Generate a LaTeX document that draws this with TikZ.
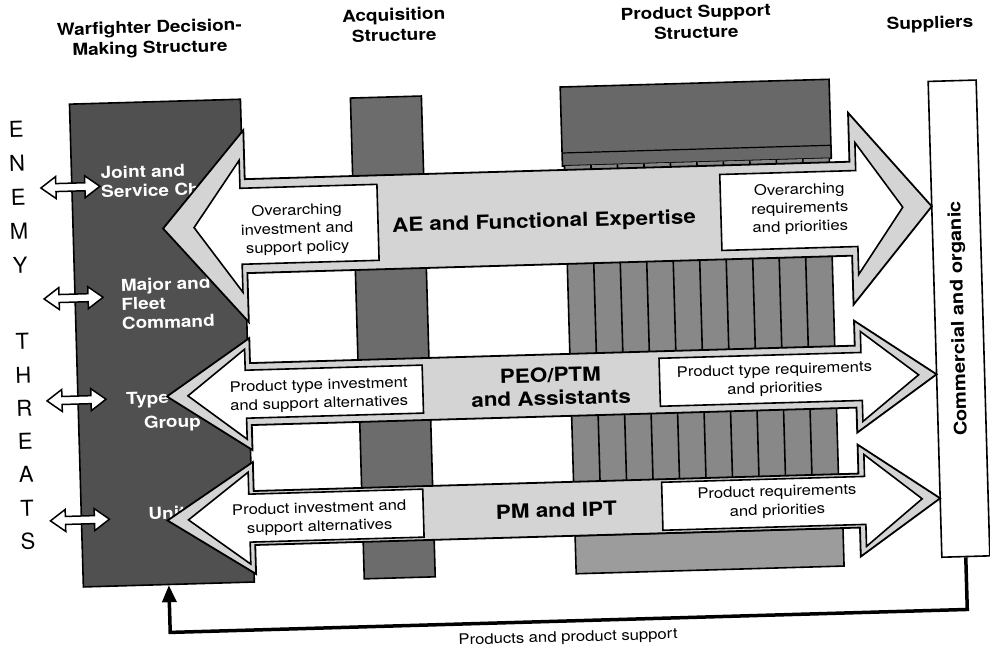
\documentclass[tikz,border=0pt]{standalone}
\usepackage{fontspec}
\setmainfont[FakeStretch=1.15]{TeX Gyre Heros}
\newfontfamily\letterfont{TeX Gyre Heros}
\usepackage{xcolor}
\usepackage{tikz}
\usetikzlibrary{arrows.meta}
\definecolor{warfgray}{HTML}{505050}
\definecolor{acqgray}{HTML}{6C6C6C}
\definecolor{psgray}{HTML}{686868}
\definecolor{stripgray}{HTML}{888888}
\definecolor{psbotgray}{HTML}{9C9C9C}
\definecolor{stipple}{HTML}{D4D4D4}
\tikzset{
  head/.style={font=\bfseries\fontsize{16.5}{20.5}\selectfont, align=center, inner sep=0pt},
  txt/.style={font=\fontsize{14.5}{18.5}\selectfont, align=center, inner sep=0pt},
  bandtxt/.style={font=\bfseries\fontsize{19.5}{23}\selectfont, align=center, inner sep=0pt},
  wlbl/.style={font=\bfseries\fontsize{16.5}{19}\selectfont, text=white, align=left, inner sep=0pt},
  threat/.style={font=\letterfont\fontsize{22}{22}\selectfont, inner sep=0pt},
  colbox/.style={draw, line width=1.6pt, inner sep=0pt},
  band/.style={fill=stipple, draw, line width=1.8pt},
  inarrow/.style={fill=white, draw, line width=1.6pt},
  dblarr/.style={fill=white, draw, line width=1.5pt},
  fb/.style={line width=3.5pt, -{Triangle[length=17pt,width=14pt]}}
}

\begin{document}
\begin{tikzpicture}[x=1pt,y=-1pt]
  \useasboundingbox (0,0) rectangle (990,650);
  \begin{scope}[rotate around={1.65:(495,325)}, every node/.append style={transform shape}]
    % warfighter column and its commands
    \node[colbox, fill=warfgray, minimum width=171pt, minimum height=483pt] (warf) at (161.5,333.5) {};
    \node[wlbl, anchor=north west] (lblJoint) at (105,155) {Joint and\\Service Chiefs};
    \node[wlbl, anchor=north west] (lblMajor) at (122,268) {Major and\\Fleet\\Command};
    \node[wlbl, anchor=north west] (lblType) at (124,382) {Type};
    \node[wlbl, anchor=north west] (lblGroup) at (141,406) {Group};
    \node[wlbl, anchor=north west] (lblUnits) at (143,497) {Units};

    % acquisition column
    \node[colbox, fill=acqgray, minimum width=71pt, minimum height=481pt] (acq) at (392.5,334.5) {};

    % product support column
    \node[colbox, fill=psgray, minimum width=269pt, minimum height=79pt] (psTop) at (701.5,128.5) {};
    \draw[line width=1.2pt] (567,155) -- (836,155);
    \fill[stripgray] (569,168) rectangle (834,538);
    \foreach \i in {0,...,10} {
      \draw[line width=1.6pt] ({569+26.5*\i},168) -- ++(0,370);
    }
    \node[colbox, fill=psbotgray, minimum width=268pt, minimum height=38pt] (psBot) at (703,557) {};

    % suppliers
    \node[colbox, fill=white, rotate=90, minimum width=476pt, minimum height=48pt,
      font=\bfseries\fontsize{17.5}{18}\selectfont] (supp) at (959,332) {Commercial and organic};

    % the three bands
    \foreach \cy/\h/\H/\tip in {219/47/96/166, 387/31/56/165, 511/27/56/162} {
      \draw[band] (249,{\cy-\h}) -- (854,{\cy-\h}) -- (854,{\cy-\H}) -- (935,\cy)
        -- (854,{\cy+\H}) -- (854,{\cy+\h}) -- (249,{\cy+\h}) -- (249,{\cy+\H})
        -- (\tip,\cy) -- (249,{\cy-\H}) -- cycle;
    }
    \foreach \cy/\b/\Hi/\lx/\ltip/\rx/\rtip in {219/38/66/381/197/724/906, 387/24/45/421/186/658/917, 511/24/46/418/183/657/917} {
      \draw[inarrow] (\lx,{\cy-\b}) -- (244,{\cy-\b}) -- (244,{\cy-\Hi}) -- (\ltip,\cy)
        -- (244,{\cy+\Hi}) -- (244,{\cy+\b}) -- (\lx,{\cy+\b}) -- cycle;
      \draw[inarrow] (\rx,{\cy-\b}) -- (860,{\cy-\b}) -- (860,{\cy-\Hi}) -- (\rtip,\cy)
        -- (860,{\cy+\Hi}) -- (860,{\cy+\b}) -- (\rx,{\cy+\b}) -- cycle;
    }
    \node[txt] (aeLeft) at (300,224) {Overarching\\investment and\\support policy};
    \node[bandtxt] (aeBand) at (547,224) {AE and Functional Expertise};
    \node[txt] (aeRight) at (803,218) {Overarching\\requirements\\and priorities};
    \node[txt] (peoLeft) at (317,390) {Product type investment\\and support alternatives};
    \node[bandtxt] (peoBand) at (549,388) {PEO/PTM\\and Assistants};
    \node[txt] (peoRight) at (773,388) {Product type requirements\\and priorities};
    \node[txt] (pmLeft) at (314,513) {Product investment and\\support alternatives};
    \node[bandtxt] (pmBand) at (551,512) {PM and IPT};
    \node[txt] (pmRight) at (772,510) {Product requirements\\and priorities};

    % enemy threats
    \foreach \yy in {175,286,388,508} {
      \draw[dblarr] (45,\yy) -- (60,{\yy-11}) -- (60,{\yy-4}) -- (89,{\yy-4}) -- (89,{\yy-11})
        -- (104,\yy) -- (89,{\yy+11}) -- (89,{\yy+4}) -- (60,{\yy+4}) -- (60,{\yy+11}) -- cycle;
    }
    \foreach \ch [count=\i] in {E,N,E,M,Y}
      \node[threat] (enemy\i) at (22,{116+34*(\i-1)}) {\ch};
    \foreach \ch [count=\i] in {T,H,R,E,A,T,S}
      \node[threat] (threat\i) at (22,{328+33.3*(\i-1)}) {\ch};

    % products flow back to the warfighter
    \coordinate (fbR) at (959,623);
    \coordinate (fbL) at (161.5,623);
    \draw[fb] (supp.west) -- (fbR) -- (fbL) -- (warf.south);
    \node[txt, anchor=north] (fbLbl) at (559,633) {Products and product support};

    % column headings
    \node[head] (ttlWarf) at (158,29) {Warfighter Decision-\\Making Structure};
    \node[head] (ttlAcq) at (402.6,22) {Acquisition\\Structure};
    \node[head] (ttlPS) at (704.7,28) {Product Support\\Structure};
    \node[head] (ttlSupp) at (938.6,37) {Suppliers};
  \end{scope}
\end{tikzpicture}
\end{document}
